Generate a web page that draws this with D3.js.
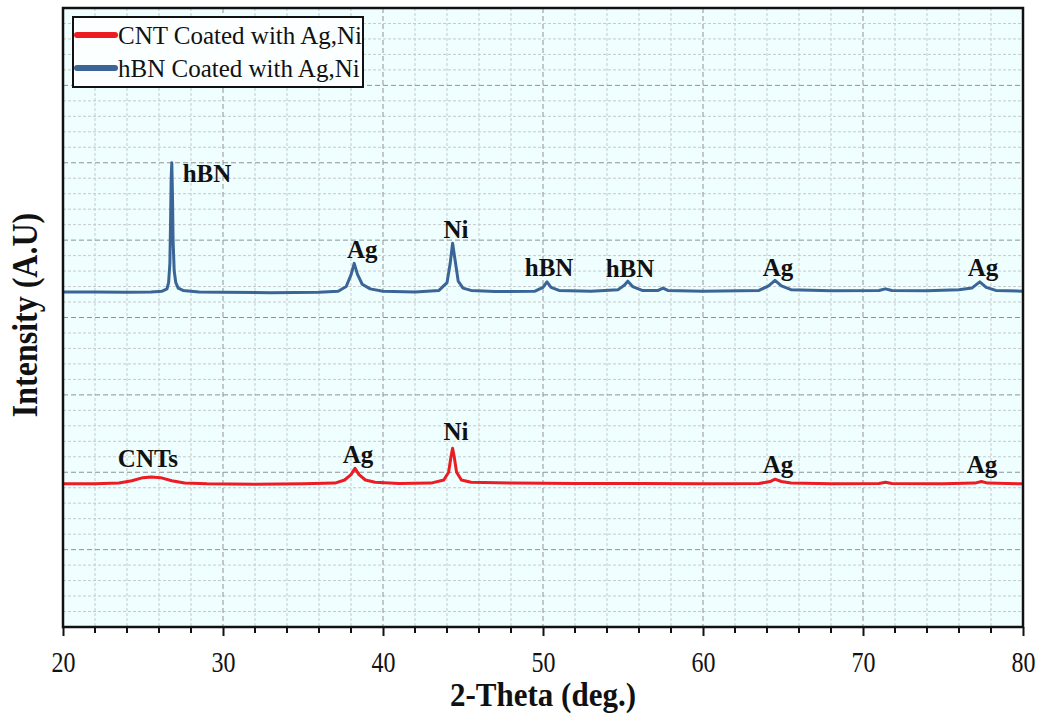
<!DOCTYPE html>
<html>
<head>
<meta charset="utf-8">
<script src="https://cdn.jsdelivr.net/npm/d3@7"></script>
<style>
  body { margin: 0; background: #fff; }
  text { font-family: "Liberation Serif", "Times New Roman", serif; }
</style>
</head>
<body>
<div id="xrdPlot"></div>
<script>
// --- data (2-theta in degrees, intensity in arbitrary units) ---
const cntTheta = [20, 22, 23.5, 24.3, 25, 25.5, 26.1, 26.8, 27.6, 29, 32, 35, 37, 37.6, 38.0, 38.25, 38.5, 38.9, 39.5, 41, 43, 43.8, 44.1, 44.25, 44.35, 44.45, 44.6, 44.9, 45.5, 48, 52, 56, 60, 63.5, 64.2, 64.5, 64.9, 65.5, 68, 71, 71.4, 71.8, 75, 77, 77.4, 77.8, 80];
const cntIntensity = [185, 185, 186, 189, 193, 194, 193, 189, 186, 185, 184.5, 185, 186, 190, 197, 205, 197, 190, 187, 185.5, 186, 190, 200, 220, 231, 220, 200, 190, 187, 186, 185.5, 185.5, 185, 185.5, 188, 191, 188, 186, 185, 185.5, 187, 185.5, 185, 186, 188, 186, 185];

const hbnTheta = [20, 22, 24, 25.5, 26.2, 26.5, 26.6, 26.68, 26.72, 26.76, 26.8, 26.84, 26.88, 26.95, 27.05, 27.2, 27.5, 28.5, 30, 33, 36, 37.2, 37.7, 38.0, 38.2, 38.4, 38.7, 39.2, 40, 42, 43.5, 44.0, 44.2, 44.35, 44.5, 44.7, 45.0, 45.5, 47, 49.5, 50.0, 50.25, 50.5, 51, 53, 54.7, 55.1, 55.3, 55.6, 56.2, 57.2, 57.5, 57.8, 60, 63.5, 64.1, 64.5, 64.9, 65.5, 68, 71, 71.4, 71.8, 74, 76, 76.8, 77.3, 77.7, 78.3, 80];
const hbnIntensity = [433, 433, 432.5, 433, 434, 437, 445, 470, 520, 580, 600, 560, 500, 460, 445, 438, 435, 433, 432.5, 432, 432.5, 434, 440, 455, 470, 456, 443, 437, 434, 433, 435, 445, 470, 496, 475, 447, 438, 435, 433.5, 434, 439, 446, 439, 435, 434, 436, 442, 447, 440, 435, 435, 438, 435, 434, 435, 441, 448, 441, 436, 434.5, 435, 437, 435, 434.5, 436, 438, 446, 439, 435, 434];

const seriesNames = ["CNT Coated with Ag,Ni", "hBN Coated with Ag,Ni"];
const seriesColors = ["#ec1c24", "#3b6596"];

const xTickLabels = [20, 30, 40, 50, 60, 70, 80];

// peak annotations: text, 2-theta and intensity of the label baseline
const peakText      = ["hBN", "Ag", "Ni", "hBN", "hBN", "Ag", "Ag", "CNTs", "Ag", "Ni", "Ag", "Ag"];
const peakTheta     = [29.0, 38.7, 44.56, 50.38, 55.44, 64.69, 77.5, 25.31, 38.44, 44.56, 64.69, 77.44];
const peakIntensity = [575, 477, 503, 454, 452, 453, 453, 207, 212, 242, 199, 199];

function drawXrd() {
  // 1) Canvas
  const vbWidth = 1040, vbHeight = 717;
  const margin = { top: 8, right: 17, bottom: 90, left: 63 };
  const width  = vbWidth - margin.left - margin.right;
  const height = vbHeight - margin.top - margin.bottom;

  const svg = d3.select("#xrdPlot")
    .append("svg")
      .attr("width", vbWidth)
      .attr("height", vbHeight)
    .append("g")
      .attr("transform", `translate(${margin.left},${margin.top})`);

  // 2) Scales
  const x = d3.scaleLinear().domain([20, 80]).range([0, width]);
  const y = d3.scaleLinear().domain([0, 800]).range([height, 0]);

  // 3) Plot background
  svg.append("rect")
     .attr("width", width).attr("height", height)
     .attr("fill", "#effefe");

  // 4) Grid (minor first, then major)
  const grid = svg.append("g");
  const minorX = x.ticks(30).filter(d => d % 10 !== 0);
  const minorY = y.ticks(40).filter(d => d % 100 !== 0);
  grid.selectAll("line.vminor").data(minorX).enter().append("line")
      .attr("x1", d => x(d)).attr("x2", d => x(d)).attr("y1", 0).attr("y2", height)
      .attr("stroke", "#c6caca").attr("stroke-width", 1).attr("stroke-dasharray", "3,2");
  grid.selectAll("line.hminor").data(minorY).enter().append("line")
      .attr("y1", d => y(d)).attr("y2", d => y(d)).attr("x1", 0).attr("x2", width)
      .attr("stroke", "#c6caca").attr("stroke-width", 1).attr("stroke-dasharray", "3,2");
  grid.selectAll("line.vmajor").data(x.ticks(6)).enter().append("line")
      .attr("x1", d => x(d)).attr("x2", d => x(d)).attr("y1", 0).attr("y2", height)
      .attr("stroke", "#8f9393").attr("stroke-width", 1).attr("stroke-dasharray", "5,3");
  grid.selectAll("line.hmajor").data(y.ticks(8)).enter().append("line")
      .attr("y1", d => y(d)).attr("y2", d => y(d)).attr("x1", 0).attr("x2", width)
      .attr("stroke", "#8f9393").attr("stroke-width", 1).attr("stroke-dasharray", "5,3");

  // 5) Patterns
  const series = [
    cntTheta.map((t, i) => ({ theta: t, value: cntIntensity[i] })),
    hbnTheta.map((t, i) => ({ theta: t, value: hbnIntensity[i] }))
  ];
  const line = d3.line().x(d => x(d.theta)).y(d => y(d.value));
  svg.selectAll("path.pattern")
    .data(series)
    .enter()
    .append("path")
      .attr("class", "pattern")
      .attr("d", line)
      .attr("fill", "none")
      .attr("stroke", (d, i) => seriesColors[i])
      .attr("stroke-width", 3)
      .attr("stroke-linejoin", "round");

  // 6) Peak labels
  svg.selectAll("text.peak")
    .data(peakText)
    .enter()
    .append("text")
      .attr("class", "peak")
      .attr("x", (d, i) => x(peakTheta[i]))
      .attr("y", (d, i) => y(peakIntensity[i]))
      .attr("text-anchor", "middle")
      .style("font-size", "25px")
      .style("font-weight", "bold")
      .attr("fill", "#111")
      .text(d => d);

  // 7) Frame + bottom axis
  svg.append("rect")
     .attr("width", width).attr("height", height)
     .attr("fill", "none").attr("stroke", "#111").attr("stroke-width", 2.5);

  const xAxis = svg.append("g")
     .attr("transform", `translate(0,${height})`)
     .call(d3.axisBottom(x).tickValues(xTickLabels).tickSize(9).tickPadding(8).tickFormat(d3.format("d")));
  xAxis.select(".domain").remove();
  xAxis.selectAll(".tick line").attr("stroke", "#111").attr("stroke-width", 2);
  // the source figure's lettering is a little stretched vertically
  xAxis.selectAll(".tick text")
     .attr("y", 0).attr("dy", null)
     .attr("transform", "translate(0,45) scale(1,1.25)")
     .style("font-size", "24px")
     .style("font-family", "'Liberation Serif', serif")
     .attr("fill", "#111");

  svg.append("g")
     .attr("transform", `translate(0,${height})`)
     .selectAll("line")
     .data(minorX)
     .enter().append("line")
       .attr("x1", d => x(d)).attr("x2", d => x(d))
       .attr("y1", 0).attr("y2", 6)
       .attr("stroke", "#111").attr("stroke-width", 2);

  // 8) Axis titles
  svg.append("text")
     .attr("transform", `translate(${width / 2},${height + 79}) scale(1,1.12)`)
     .attr("text-anchor", "middle")
     .style("font-size", "31px")
     .style("font-weight", "bold")
     .attr("fill", "#111")
     .text("2-Theta (deg.)");

  svg.append("text")
     .attr("transform", "translate(-26,307) rotate(-90) scale(1,1.1)")
     .attr("text-anchor", "middle")
     .style("font-size", "32px")
     .style("font-weight", "bold")
     .attr("fill", "#111")
     .text("Intensity (A.U)");

  // 9) Legend
  const legend = svg.append("g").attr("transform", "translate(10,9)");
  legend.append("rect")
     .attr("width", 290).attr("height", 70)
     .attr("fill", "#fbffff").attr("stroke", "#111").attr("stroke-width", 2);
  const rows = legend.selectAll("g.row")
     .data(seriesNames)
     .enter().append("g")
       .attr("class", "row")
       .attr("transform", (d, i) => `translate(0,${18 + i * 33})`);
  rows.append("line")
     .attr("x1", 4).attr("x2", 42)
     .attr("stroke", (d, i) => seriesColors[i])
     .attr("stroke-width", 6)
     .attr("stroke-linecap", "round");
  rows.append("text")
     .attr("x", 45)
     .attr("y", 9)
     .style("font-size", "25px")
     .attr("fill", "#111")
     .text(d => d);
}

drawXrd();
</script>
</body>
</html>
